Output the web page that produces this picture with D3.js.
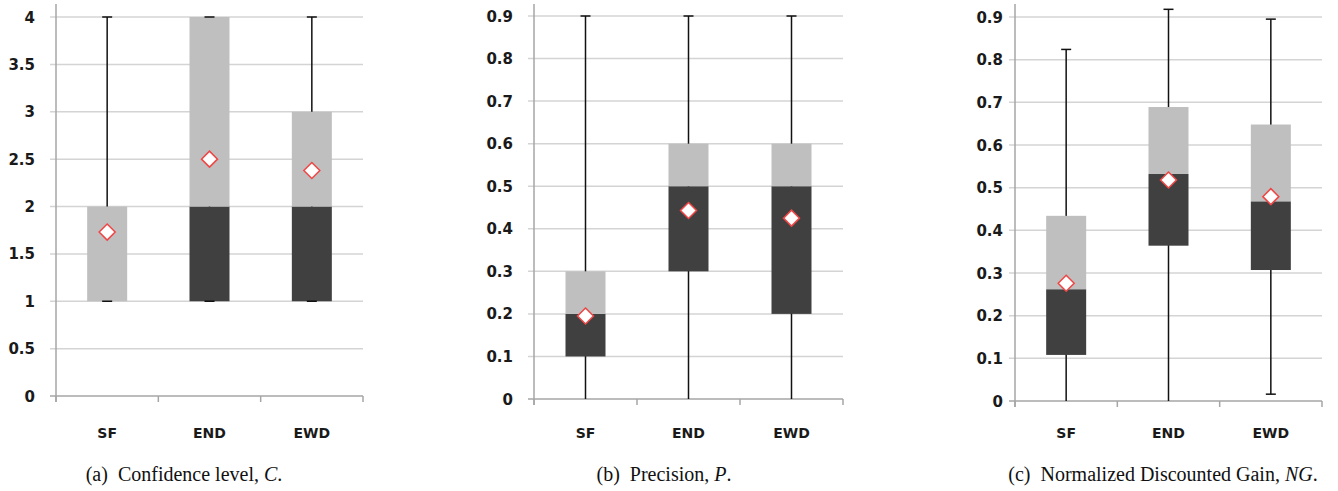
<!DOCTYPE html>
<html>
<head>
<meta charset="utf-8">
<script src="https://cdn.jsdelivr.net/npm/d3@7"></script>
<style>
  body { margin: 0; background: #fff; }
  svg { display: block; }
  .tick-label { font-family: "DejaVu Sans", Verdana, sans-serif; font-weight: bold; font-size: 15px; fill: #1a1a1a; }
  .cat-label { font-family: "DejaVu Sans", Verdana, sans-serif; font-weight: bold; font-size: 14px; fill: #1a1a1a; }
  .caption { font-family: "Liberation Serif", "Times New Roman", serif; font-size: 20px; fill: #111; }
</style>
</head>
<body>
<div id="chart"></div>
<script>
// categories shared by all three panels
var categories = ["SF", "END", "EWD"];

// (a) Confidence level
var confMin    = [1, 1, 1];
var confQ1     = [1, 1, 1];
var confMedian = [1, 2, 2];
var confQ3     = [2, 4, 3];
var confMax    = [4, 4, 4];
var confMean   = [1.73, 2.5, 2.38];
var confTicks  = [0, 0.5, 1, 1.5, 2, 2.5, 3, 3.5, 4];

// (b) Precision
var precMin    = [0, 0, 0];
var precQ1     = [0.1, 0.3, 0.2];
var precMedian = [0.2, 0.5, 0.5];
var precQ3     = [0.3, 0.6, 0.6];
var precMax    = [0.9, 0.9, 0.9];
var precMean   = [0.195, 0.443, 0.425];
var precTicks  = [0, 0.1, 0.2, 0.3, 0.4, 0.5, 0.6, 0.7, 0.8, 0.9];

// (c) Normalized Discounted Gain
var ngMin    = [0, 0, 0.016];
var ngQ1     = [0.108, 0.364, 0.307];
var ngMedian = [0.262, 0.532, 0.468];
var ngQ3     = [0.434, 0.689, 0.648];
var ngMax    = [0.824, 0.918, 0.895];
var ngMean   = [0.276, 0.518, 0.479];
var ngTicks  = [0, 0.1, 0.2, 0.3, 0.4, 0.5, 0.6, 0.7, 0.8, 0.9];

var captions = [
    { pre: "(a)  Confidence level, ", it: "C", post: "." },
    { pre: "(b)  Precision, ", it: "P", post: "." },
    { pre: "(c)  Normalized Discounted Gain, ", it: "NG", post: "." }
];

function rows(mn, q1, md, q3, mx, mean) {
    return categories.map(function (c, i) {
        return { cat: c, min: mn[i], q1: q1[i], median: md[i], q3: q3[i], max: mx[i], mean: mean[i] };
    });
}

var panels = [
    { data: rows(confMin, confQ1, confMedian, confQ3, confMax, confMean), ticks: confTicks,
      x0: 56, x1: 363, yTop: 17, yBottom: 396, maxVal: 4, labelRight: 35, capX: 184 },
    { data: rows(precMin, precQ1, precMedian, precQ3, precMax, precMean), ticks: precTicks,
      x0: 534, x1: 843, yTop: 16, yBottom: 399, maxVal: 0.9, labelRight: 513, capX: 664 },
    { data: rows(ngMin, ngQ1, ngMedian, ngQ3, ngMax, ngMean), ticks: ngTicks,
      x0: 1015, x1: 1322, yTop: 17, yBottom: 401, maxVal: 0.9, labelRight: 1003, capX: 1163 }
];

var svg = d3.select("#chart").append("svg")
    .attr("width", 1338)
    .attr("height", 491);

var lightGray = "#bfbfbf";
var darkGray = "#404040";

panels.forEach(function (p, k) {
    var g = svg.append("g").attr("id", "panel" + k);

    var y = d3.scaleLinear().domain([0, p.maxVal]).range([p.yBottom, p.yTop]);
    var x = d3.scaleBand().domain(categories).range([p.x0, p.x1]);
    var boxW = 40;
    var capW = 10;

    // gridlines + tick marks
    g.selectAll(".grid")
        .data(p.ticks.filter(function (t) { return t > 0; }))
        .enter().append("line")
        .attr("x1", p.x0 - 6).attr("x2", p.x1)
        .attr("y1", function (d) { return y(d); })
        .attr("y2", function (d) { return y(d); })
        .attr("stroke", "#d4d4d4")
        .attr("stroke-width", 1.5);

    // y tick labels
    g.selectAll(".tick-label")
        .data(p.ticks)
        .enter().append("text")
        .attr("class", "tick-label")
        .attr("x", p.labelRight)
        .attr("y", function (d) { return y(d) + 5.5; })
        .attr("text-anchor", "end")
        .text(function (d) { return d3.format("")(d); });

    // x axis line and ticks at band boundaries
    g.append("line")
        .attr("x1", p.x0 - 6).attr("x2", p.x1)
        .attr("y1", y(0)).attr("y2", y(0))
        .attr("stroke", "#a6a6a6").attr("stroke-width", 1.5);
    var bounds = categories.map(function (c) { return x(c); }).concat([p.x1]);
    g.selectAll(".xtick")
        .data(bounds)
        .enter().append("line")
        .attr("x1", function (d) { return d; })
        .attr("x2", function (d) { return d; })
        .attr("y1", y(0)).attr("y2", y(0) + 6)
        .attr("stroke", "#a6a6a6").attr("stroke-width", 1.5);

    // y axis line
    g.append("line")
        .attr("x1", p.x0).attr("x2", p.x0)
        .attr("y1", 4).attr("y2", y(0) + 6)
        .attr("stroke", "#a6a6a6").attr("stroke-width", 1.5);

    var cx = function (d) { return x(d.cat) + x.bandwidth() / 2; };

    // whiskers
    g.selectAll(".whisker")
        .data(p.data)
        .enter().append("line")
        .attr("x1", cx).attr("x2", cx)
        .attr("y1", function (d) { return y(d.min); })
        .attr("y2", function (d) { return y(d.max); })
        .attr("stroke", "#111").attr("stroke-width", 1.5);

    // lower box (q1 -> median), dark
    g.selectAll(".boxLow")
        .data(p.data)
        .enter().append("rect")
        .attr("x", function (d) { return cx(d) - boxW / 2; })
        .attr("width", boxW)
        .attr("y", function (d) { return y(d.median); })
        .attr("height", function (d) { return y(d.q1) - y(d.median); })
        .attr("fill", darkGray);

    // upper box (median -> q3), light
    g.selectAll(".boxHigh")
        .data(p.data)
        .enter().append("rect")
        .attr("x", function (d) { return cx(d) - boxW / 2; })
        .attr("width", boxW)
        .attr("y", function (d) { return y(d.q3); })
        .attr("height", function (d) { return y(d.median) - y(d.q3); })
        .attr("fill", lightGray);

    // caps
    ["min", "max"].forEach(function (key) {
        g.selectAll(".cap-" + key)
            .data(p.data.filter(function (d) { return d[key] > 0; }))
            .enter().append("line")
            .attr("x1", function (d) { return cx(d) - capW / 2; })
            .attr("x2", function (d) { return cx(d) + capW / 2; })
            .attr("y1", function (d) { return y(d[key]); })
            .attr("y2", function (d) { return y(d[key]); })
            .attr("stroke", "#111").attr("stroke-width", 1.5);
    });

    // mean markers
    g.selectAll(".mean")
        .data(p.data)
        .enter().append("path")
        .attr("d", "M0,-8L8,0L0,8L-8,0Z")
        .attr("transform", function (d) { return "translate(" + cx(d) + "," + y(d.mean) + ")"; })
        .attr("fill", "#fff")
        .attr("stroke", "#f04545")
        .attr("stroke-width", 1.5);

    // category labels
    g.selectAll(".cat-label")
        .data(categories)
        .enter().append("text")
        .attr("class", "cat-label")
        .attr("x", function (d) { return x(d) + x.bandwidth() / 2; })
        .attr("y", 438)
        .attr("text-anchor", "middle")
        .text(function (d) { return d; });

    // caption
    var cap = g.append("text")
        .attr("class", "caption")
        .attr("x", p.capX)
        .attr("y", 481)
        .attr("text-anchor", "middle")
        .attr("xml:space", "preserve");
    cap.append("tspan").text(captions[k].pre);
    cap.append("tspan").attr("font-style", "italic").text(captions[k].it);
    cap.append("tspan").text(captions[k].post);
});
</script>
</body>
</html>
